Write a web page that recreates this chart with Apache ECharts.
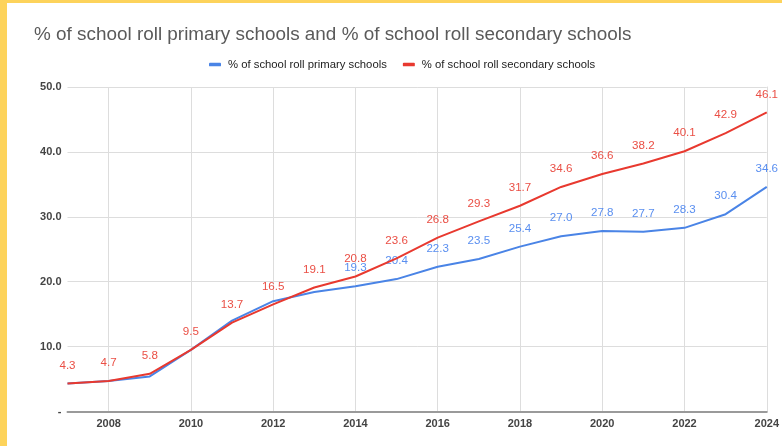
<!DOCTYPE html>
<html>
<head>
<meta charset="utf-8">
<script src="https://cdn.jsdelivr.net/npm/echarts@6/dist/echarts.min.js"></script>
<style>
html,body{margin:0;padding:0;background:#fff;}
#c{width:782px;height:446px;}
</style>
</head>
<body>
<div id="c"></div>
<script>
const years = ['2007','2008','2009','2010','2011','2012','2013','2014','2015','2016','2017','2018','2019','2020','2021','2022','2023','2024'];
const primary = [4.3,4.7,5.4,9.5,14.0,17.0,18.4,19.3,20.4,22.3,23.5,25.4,27.0,27.8,27.7,28.3,30.4,34.6];
const secondary = [4.3,4.7,5.8,9.5,13.7,16.5,19.1,20.8,23.6,26.8,29.3,31.7,34.6,36.6,38.2,40.1,42.9,46.1];
const hiddenPrimaryLabels = 7; // first labels covered by the secondary labels
const yTicks = [0,10,20,30,40,50];
const titleText = '% of school roll primary schools and % of school roll secondary schools';
const names = ['% of school roll primary schools','% of school roll secondary schools'];

const BLUE = '#4a84e6', RED = '#e8392f';
const FONT = 'Liberation Sans, Arial';
const chart = echarts.init(document.getElementById('c'));
const evenYear = (i, v) => Number(v) % 2 === 0;
chart.setOption({
  animation: false,
  backgroundColor: '#fff',
  graphic: [
    {type:'rect', shape:{x:0,y:0,width:7,height:446}, style:{fill:'#fdd35b'}, z:100},
    {type:'rect', shape:{x:0,y:0,width:782,height:3}, style:{fill:'#fdd35b'}, z:100}
  ],
  title: {
    text: titleText, left: 29, top: 20,
    textStyle: {fontFamily: FONT, fontSize: 18.9, fontWeight:'normal', color:'#5a5a5a'}
  },
  legend: {
    top: 54, left: 204, itemWidth: 12, itemHeight: 3.5, itemGap: 16,
    icon: 'roundRect',
    textStyle: {fontFamily: FONT, fontSize: 11.3, color:'#222', padding: [0, 0, 0, 2]},
    data: names
  },
  grid: {left: 67.5, right: 14, top: 87, bottom: 34.5, containLabel: false},
  xAxis: {
    type: 'category', data: years, boundaryGap: false,
    axisLine: {show: true, lineStyle: {color:'#9a9a9a', width: 2}},
    axisTick: {show: false},
    axisLabel: {interval: evenYear, margin: 7, fontFamily: FONT, fontSize: 11, fontWeight: 'bold', color:'#444'},
    splitLine: {show: true, interval: evenYear, lineStyle: {color:'#dddddd', width: 1}}
  },
  yAxis: [
    {
      type: 'value', min: yTicks[0], max: yTicks[yTicks.length-1], interval: 10,
      axisLine: {show:false}, axisTick: {show:false},
      axisLabel: {margin: 6, fontFamily: FONT, fontSize: 11, fontWeight:'bold', color:'#444',
        formatter: v => v === 0 ? '-' : v.toFixed(1)},
      splitLine: {lineStyle: {color:'#dddddd', width: 1}}
    },
    {
      type: 'value', position: 'right', min: yTicks[0], max: yTicks[yTicks.length-1], interval: 10,
      axisLine: {show: true, lineStyle: {color:'#dddddd', width: 1}},
      axisTick: {show:false}, axisLabel: {show:false}, splitLine: {show:false}
    }
  ],
  series: [
    {
      name: names[0], type: 'line', symbol: 'circle', symbolSize: 0, showSymbol: true, smooth: false,
      lineStyle: {color: BLUE, width: 2}, itemStyle: {color: BLUE},
      data: primary.map((v, i) => i < hiddenPrimaryLabels ? {value: v, label: {show: false}} : v),
      label: {show: true, position: 'top', distance: 12, color: '#5a8ff0', fontFamily: FONT, fontSize: 11.6,
        formatter: p => Number(p.value).toFixed(1)},
      z: 2
    },
    {
      name: names[1], type: 'line', symbol: 'circle', symbolSize: 0, showSymbol: true, smooth: false,
      lineStyle: {color: RED, width: 2}, itemStyle: {color: RED},
      data: secondary,
      label: {show: true, position: 'top', distance: 12, color: '#ea4f45', fontFamily: FONT, fontSize: 11.6,
        formatter: p => Number(p.value).toFixed(1)},
      z: 3
    }
  ]
});
</script>
</body>
</html>
